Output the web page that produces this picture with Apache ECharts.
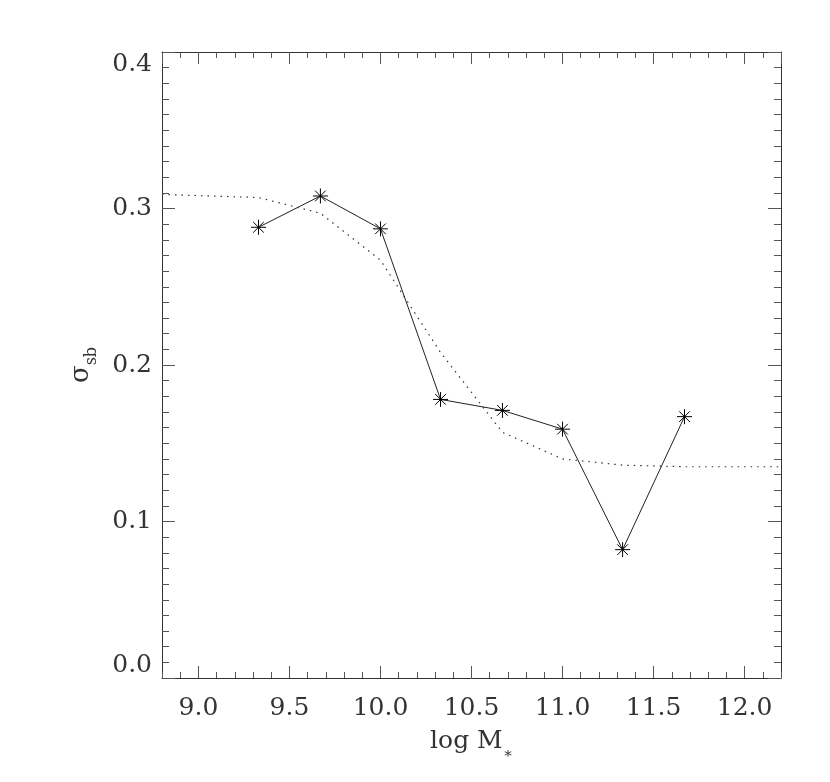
<!DOCTYPE html>
<html>
<head>
<meta charset="utf-8">
<script src="https://cdn.jsdelivr.net/npm/echarts@6/dist/echarts.min.js"></script>
<style>
  html, body { margin: 0; padding: 0; background: #fff; }
  #main { width: 830px; height: 782px; }
</style>
</head>
<body>
<div id="main"></div>
<script>
// binned points (solid line with asterisks)
const massBins = [9.33, 9.67, 10.0, 10.33, 10.67, 11.0, 11.33, 11.67];
const sigmaSb = [0.288, 0.308, 0.287, 0.178, 0.171, 0.159, 0.082, 0.167];

// model curve (dotted)
const fitMass = [8.8, 9.33, 9.67, 10.0, 10.33, 10.67, 11.0, 11.33, 11.67, 12.2];
const fitSigma = [0.309, 0.307, 0.297, 0.267, 0.208, 0.157, 0.140, 0.136, 0.135, 0.135];

const xMin = 8.8, xMax = 12.2;
const yMin = 0, yMax = 0.4;

const font = 'DejaVu Serif';
const textColor = '#333';
const lineColor = '#333';
const tickColor = '#555';

const chart = echarts.init(document.getElementById('main'));

// one x axis per side for the long ticks (every 0.5) and one for the short ones (every 0.1)
function xMajor(position, labels) {
  return {
    type: 'value', position: position, min: xMin, max: xMax, splitNumber: 7,
    axisLine: {show: true, lineStyle: {color: lineColor, width: 1}},
    axisTick: {show: true, inside: true, length: 12, lineStyle: {color: tickColor}},
    axisLabel: {
      show: labels, margin: 18, fontFamily: font, fontSize: 25, color: textColor,
      showMinLabel: false, showMaxLabel: false,
      formatter: v => v.toFixed(1)
    },
    splitLine: {show: false}
  };
}
function xMinor(position) {
  return {
    type: 'value', position: position, min: xMin, max: xMax, interval: 0.1,
    axisLine: {show: false},
    axisTick: {show: true, inside: true, length: 6, lineStyle: {color: tickColor}},
    axisLabel: {show: false},
    splitLine: {show: false}
  };
}
function yAxisSide(position, labels) {
  return {
    type: 'value', position: position, min: yMin, max: yMax, interval: 0.1,
    axisLine: {show: true, lineStyle: {color: lineColor, width: 1}},
    axisTick: {show: true, inside: true, length: 13, lineStyle: {color: tickColor}},
    minorTick: {show: true, splitNumber: 10, length: 7, lineStyle: {color: tickColor}},
    axisLabel: {
      show: labels, margin: 10, fontFamily: font, fontSize: 25, color: textColor,
      verticalAlignMinLabel: 'bottom', verticalAlignMaxLabel: 'top',
      formatter: v => v.toFixed(1)
    },
    splitLine: {show: false},
    minorSplitLine: {show: false}
  };
}

const xBottom = xMajor('bottom', true);
xBottom.name = '{a|log M}{b|∗}';
xBottom.nameLocation = 'middle';
xBottom.nameGap = 51;
xBottom.nameTextStyle = {
  rich: {
    a: {fontFamily: font, fontSize: 25, color: textColor, padding: [0, 0, 8, 0]},
    b: {fontFamily: font, fontSize: 15, color: textColor, verticalAlign: 'bottom'}
  }
};

const yLeft = yAxisSide('left', true);
yLeft.name = '{s|σ}{b|sb}';
yLeft.nameLocation = 'middle';
yLeft.nameRotate = 90;
yLeft.nameGap = 62;
yLeft.nameTextStyle = {
  rich: {
    s: {fontFamily: font, fontSize: 26, color: textColor, padding: [0, 0, 6, 0]},
    b: {fontFamily: font, fontSize: 16, color: textColor, verticalAlign: 'bottom'}
  }
};

const asterisk = 'path://M10,0L10,20M0,10L20,10M2.9,2.9L17.1,17.1M2.9,17.1L17.1,2.9';

const option = {
  animation: false,
  backgroundColor: '#fff',
  grid: {left: 162, right: 49, top: 52, bottom: 104},
  xAxis: [xBottom, xMinor('bottom'), xMajor('top', false), xMinor('top')],
  yAxis: [yLeft, yAxisSide('right', false)],
  series: [
    {
      type: 'line',
      data: fitMass.map((m, i) => [m, fitSigma[i]]),
      symbol: 'none',
      lineStyle: {color: '#333', width: 1.2, type: [1.5, 5]},
      silent: true,
      z: 1
    },
    {
      type: 'line',
      data: massBins.map((m, i) => [m, sigmaSb[i]]),
      symbol: asterisk,
      symbolSize: 15,
      itemStyle: {color: '#000', borderColor: '#000', borderWidth: 1},
      lineStyle: {color: '#222', width: 1},
      emphasis: {disabled: true},
      z: 2
    }
  ]
};

chart.setOption(option);
</script>
</body>
</html>
